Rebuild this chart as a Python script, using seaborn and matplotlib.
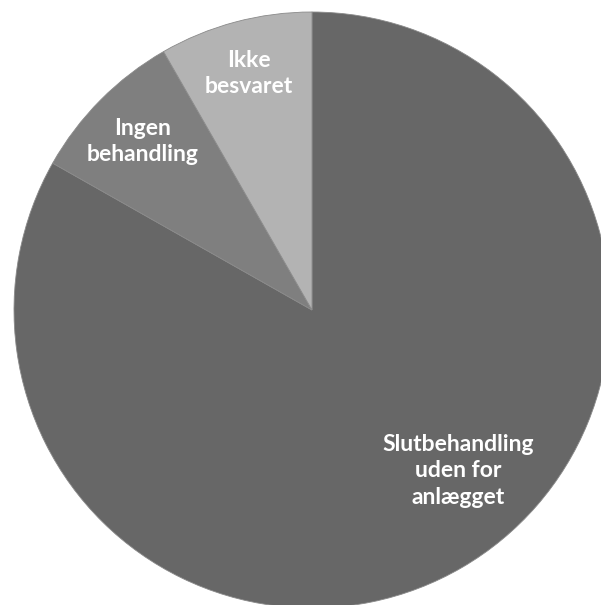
import matplotlib
matplotlib.use("Agg")
import matplotlib.pyplot as plt
import seaborn as sns

# Pie data (shares, clockwise from 12 o'clock)
labels = ["Slutbehandling\nuden for\nanlægget", "Ingen\nbehandling", "Ikke\nbesvaret"]
shares = [83.2, 8.5, 8.3]
colors = ["#676767", "#7f7f7f", "#b3b3b3"]

sns.set_style("white")
plt.rcParams["font.family"] = ["Lato", "DejaVu Sans"]

fig = plt.figure(figsize=(6.01, 6.05), dpi=100)
# centre the pie at about (312, 310) px with radius about 298 px
ax = fig.add_axes([14 / 601, -3 / 605, 596 / 601, 596 / 605])

wedges, texts = ax.pie(
    shares,
    labels=labels,
    colors=colors,
    startangle=90,
    counterclock=False,
    labeldistance=0.82,
    wedgeprops={"linewidth": 0.6, "edgecolor": "#8a8a8a"},
    textprops={"color": "white", "fontsize": 16.5, "fontweight": "bold",
               "ha": "center", "va": "center", "linespacing": 1.3},
)
# the big label sits closer to the middle, like the original
texts[0].set_position((0.49, -0.54))
texts[1].set_position((-0.57, 0.565))
for t in texts:
    t.set_horizontalalignment("center")

ax.set_xlim(-1, 1)
ax.set_ylim(-1, 1)
ax.set_aspect("equal")
ax.axis("off")

fig.savefig("out.png", dpi=100)
